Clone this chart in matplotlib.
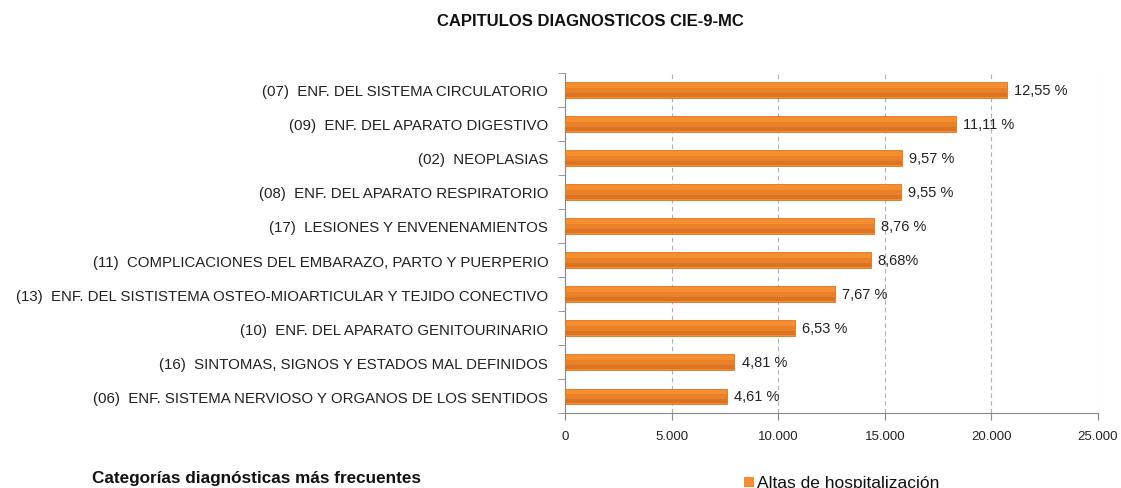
import matplotlib.pyplot as plt
from matplotlib.ticker import FuncFormatter, MultipleLocator
from matplotlib.patches import Rectangle

plt.rcParams['font.family'] = ['Liberation Sans', 'DejaVu Sans']

categories = [
    "(07)  ENF. DEL SISTEMA CIRCULATORIO",
    "(09)  ENF. DEL APARATO DIGESTIVO",
    "(02)  NEOPLASIAS",
    "(08)  ENF. DEL APARATO RESPIRATORIO",
    "(17)  LESIONES Y ENVENENAMIENTOS",
    "(11)  COMPLICACIONES DEL EMBARAZO, PARTO Y PUERPERIO",
    "(13)  ENF. DEL SISTISTEMA OSTEO-MIOARTICULAR Y TEJIDO CONECTIVO",
    "(10)  ENF. DEL APARATO GENITOURINARIO",
    "(16)  SINTOMAS, SIGNOS Y ESTADOS MAL DEFINIDOS",
    "(06)  ENF. SISTEMA NERVIOSO Y ORGANOS DE LOS SENTIDOS",
]
altas = [20730, 18360, 15810, 15780, 14470, 14340, 12670, 10790, 7950, 7620]
pct_labels = ["12,55 %", "11,11 %", "9,57 %", "9,55 %", "8,76 %",
              "8,68%", "7,67 %", "6,53 %", "4,81 %", "4,61 %"]

fig = plt.figure(figsize=(11.21, 4.89), dpi=100)
ax = fig.add_axes([0.504, 0.153, 0.4755, 0.696])

n = len(categories)
ypos = list(range(n - 1, -1, -1))
bar_color = '#F48E2E'
ax.barh(ypos, altas, height=0.45, color=bar_color, edgecolor='#DA7422',
        linewidth=0.6, zorder=3)
# soft darker lower half to hint the shaded look
ax.barh([y - 0.08 for y in ypos], altas, height=0.26, color='#E8812A',
        linewidth=0, zorder=3)
ax.barh([y - 0.15 for y in ypos], altas, height=0.12, color='#DA7422',
        linewidth=0, zorder=3)

for y, v, lab in zip(ypos, altas, pct_labels):
    ax.text(v + 330, y, lab, va='center', ha='left', fontsize=10.5,
            color='#222222')

ax.set_xlim(0, 25000)
ax.set_ylim(-0.5, n - 0.5)
ax.xaxis.set_major_locator(MultipleLocator(5000))
ax.xaxis.set_major_formatter(FuncFormatter(lambda x, p: f"{int(x):,}".replace(",", ".")))
ax.grid(axis='x', color='#B0B0B0', linestyle=(0, (4, 3)), linewidth=0.8, zorder=0)

ax.set_yticks(ypos)
ax.set_yticklabels(categories, fontsize=10.8, color='#222222')
ax.set_yticks([y + 0.5 for y in range(-1, n)], minor=True)
ax.tick_params(axis='y', which='major', length=0, pad=12)
ax.tick_params(axis='y', which='minor', length=5, color='#888888')
ax.tick_params(axis='x', length=5, color='#888888', labelsize=9.5, pad=7,
               labelcolor='#222222')

for s in ['top', 'right']:
    ax.spines[s].set_visible(False)
for s in ['left', 'bottom']:
    ax.spines[s].set_color('#888888')

fig.text(0.527, 0.957, "CAPITULOS DIAGNOSTICOS CIE-9-MC", ha='center', va='center',
         fontsize=12, fontweight='bold', color='#111111')
fig.text(0.082, 0.022, "Categorías diagnósticas más frecuentes", ha='left', va='center',
         fontsize=12.3, fontweight='bold', color='#111111')

fig.patches.append(Rectangle((0.664, 0.002), 0.0085, 0.02, transform=fig.transFigure,
                             facecolor=bar_color, edgecolor='none'))
fig.text(0.675, 0.012, "Altas de hospitalización", ha='left', va='center',
         fontsize=12.5, color='#111111')

fig.savefig("out.png", dpi=100)
